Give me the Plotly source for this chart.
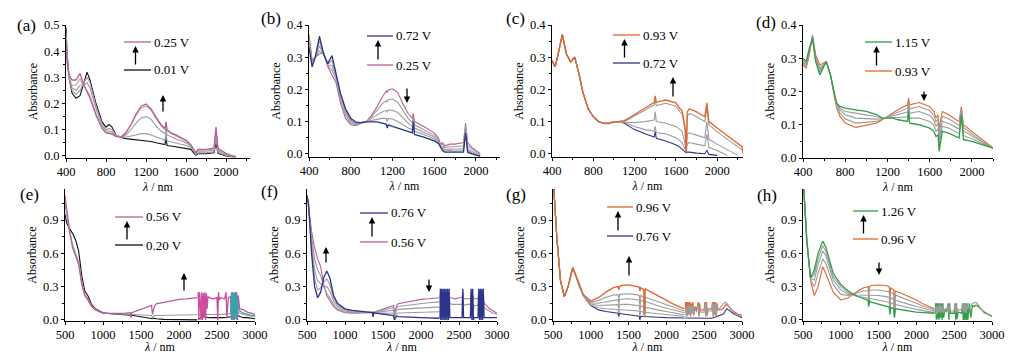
import plotly.graph_objects as go

# the page body has an 8 px margin, so the figure is drawn 16 px smaller and offset by 8 px
W, H = 1005, 346
OFF = 8
def px(x): return (x - OFF) / W
def py(y): return 1 - (y - OFF) / H

# ---------------- data ----------------
# (a) 0.01 V -> 0.25 V
a_wl = [400, 410, 430, 460, 500, 540, 580, 610, 640, 700, 760, 800, 830, 860, 900, 950, 1000, 1050, 1100, 1150,
        1200, 1250, 1300, 1350, 1390, 1400, 1410, 1450, 1500, 1600, 1650, 1680, 1700, 1720, 1800, 1880, 1900, 1920,
        1960, 2000, 2060, 2100]
a_001 = [0.49, 0.40, 0.30, 0.24, 0.22, 0.23, 0.28, 0.32, 0.29, 0.20, 0.13, 0.11, 0.12, 0.11, 0.08, 0.07, 0.066, 0.064,
         0.062, 0.060, 0.057, 0.055, 0.050, 0.046, 0.043, 0.070, 0.040, 0.038, 0.035, 0.030, 0.025, 0.010, 0.002,
         0.008, 0.008, 0.012, 0.050, 0.010, 0.005, 0.000, -0.003, -0.003]
a_g1 = [0.47, 0.39, 0.30, 0.25, 0.235, 0.25, 0.28, 0.30, 0.28, 0.19, 0.12, 0.10, 0.105, 0.10, 0.08, 0.072, 0.072, 0.075,
        0.080, 0.085, 0.085, 0.080, 0.072, 0.065, 0.060, 0.090, 0.058, 0.054, 0.050, 0.040, 0.032, 0.015, 0.005, 0.012,
        0.012, 0.016, 0.070, 0.014, 0.008, 0.002, -0.002, -0.003]
a_g2 = [0.46, 0.38, 0.30, 0.26, 0.25, 0.27, 0.27, 0.28, 0.26, 0.18, 0.12, 0.095, 0.095, 0.09, 0.077, 0.072, 0.080, 0.100,
        0.125, 0.145, 0.150, 0.140, 0.115, 0.095, 0.085, 0.110, 0.080, 0.072, 0.065, 0.050, 0.038, 0.018, 0.008, 0.018,
        0.018, 0.022, 0.090, 0.020, 0.012, 0.005, 0.000, -0.002]
a_g3 = [0.45, 0.37, 0.30, 0.27, 0.27, 0.295, 0.265, 0.25, 0.23, 0.16, 0.11, 0.09, 0.088, 0.085, 0.075, 0.072, 0.088,
        0.118, 0.155, 0.183, 0.190, 0.175, 0.142, 0.115, 0.100, 0.125, 0.097, 0.085, 0.076, 0.057, 0.040, 0.020, 0.010,
        0.022, 0.022, 0.027, 0.100, 0.025, 0.015, 0.008, 0.000, -0.002]
a_025 = [0.44, 0.36, 0.31, 0.29, 0.29, 0.315, 0.27, 0.245, 0.22, 0.155, 0.105, 0.088, 0.085, 0.083, 0.074, 0.072, 0.090,
         0.120, 0.160, 0.190, 0.198, 0.180, 0.148, 0.120, 0.105, 0.130, 0.100, 0.088, 0.080, 0.060, 0.042, 0.022, 0.012,
         0.025, 0.025, 0.030, 0.110, 0.028, 0.018, 0.010, 0.000, -0.003]

# (b) 0.25 V -> 0.72 V
b_wl = [400, 430, 460, 500, 540, 580, 620, 660, 700, 750, 800, 850, 900, 950, 1000, 1050, 1100, 1140, 1150, 1160,
        1200, 1250, 1300, 1350, 1390, 1400, 1410, 1500, 1600, 1640, 1660, 1680, 1700, 1750, 1800, 1880, 1900, 1920,
        1960, 2000, 2040]
b_025 = [0.37, 0.29, 0.30, 0.31, 0.315, 0.27, 0.245, 0.22, 0.16, 0.11, 0.09, 0.087, 0.095, 0.10, 0.12, 0.145, 0.175,
         0.195, 0.19, 0.198, 0.202, 0.19, 0.155, 0.125, 0.11, 0.125, 0.10, 0.085, 0.065, 0.05, 0.03, 0.035, 0.025,
         0.03, 0.03, 0.035, 0.095, 0.035, 0.02, 0.01, 0.0]
b_g1 = [0.36, 0.285, 0.30, 0.32, 0.31, 0.275, 0.26, 0.23, 0.17, 0.12, 0.095, 0.09, 0.095, 0.10, 0.115, 0.135, 0.155,
        0.165, 0.16, 0.168, 0.17, 0.16, 0.135, 0.11, 0.097, 0.115, 0.09, 0.075, 0.058, 0.045, 0.028, 0.03, 0.02, 0.022,
        0.022, 0.025, 0.085, 0.025, 0.015, 0.005, -0.003]
b_g2 = [0.35, 0.28, 0.30, 0.335, 0.31, 0.275, 0.275, 0.24, 0.18, 0.13, 0.10, 0.093, 0.096, 0.10, 0.11, 0.12, 0.13,
        0.135, 0.13, 0.136, 0.135, 0.128, 0.11, 0.095, 0.085, 0.11, 0.08, 0.067, 0.052, 0.04, 0.025, 0.022, 0.014,
        0.015, 0.014, 0.016, 0.078, 0.016, 0.008, 0.0, -0.005]
b_g3 = [0.34, 0.275, 0.30, 0.35, 0.31, 0.278, 0.29, 0.245, 0.185, 0.135, 0.105, 0.096, 0.097, 0.10, 0.105, 0.108, 0.11,
        0.11, 0.1, 0.11, 0.108, 0.1, 0.09, 0.08, 0.075, 0.105, 0.07, 0.06, 0.046, 0.036, 0.022, 0.015, 0.009, 0.01,
        0.008, 0.01, 0.07, 0.01, 0.004, -0.003, -0.006]
b_072 = [0.33, 0.27, 0.30, 0.365, 0.31, 0.28, 0.305, 0.25, 0.19, 0.14, 0.11, 0.098, 0.097, 0.099, 0.10, 0.099, 0.095,
         0.092, 0.08, 0.09, 0.085, 0.08, 0.075, 0.07, 0.065, 0.10, 0.06, 0.052, 0.04, 0.032, 0.02, 0.01, 0.005, 0.005,
         0.003, 0.005, 0.065, 0.005, 0.0, -0.005, -0.008]

# (c) 0.72 V -> 0.93 V
c_wl = [400, 430, 460, 500, 540, 580, 620, 660, 700, 750, 800, 850, 900, 950, 1000, 1050, 1100, 1150, 1200, 1300,
        1390, 1400, 1410, 1500, 1600, 1640, 1660, 1690, 1700, 1710, 1730, 1800, 1880, 1900, 1920, 2000, 2100, 2200,
        2240, 2250]
c_072 = [0.29, 0.27, 0.31, 0.37, 0.31, 0.285, 0.30, 0.25, 0.19, 0.14, 0.115, 0.10, 0.095, 0.095, 0.10, 0.10, 0.095,
         0.085, 0.075, 0.062, 0.052, 0.07, 0.048, 0.04, 0.028, 0.02, 0.015, 0.008, 0.003, 0.005, 0.005, 0.002, 0.0,
         0.01, -0.002, -0.005, None, None, None, None]
c_g1 = [0.29, 0.27, 0.31, 0.37, 0.31, 0.285, 0.30, 0.25, 0.19, 0.14, 0.115, 0.10, 0.095, 0.095, 0.10, 0.10, 0.097,
        0.09, 0.085, 0.075, 0.07, 0.085, 0.065, 0.062, 0.05, 0.04, 0.035, 0.015, 0.005, 0.03, 0.035, 0.03, 0.025, 0.06,
        0.02, 0.01, -0.005, None, None, None]
c_g2 = [0.29, 0.27, 0.31, 0.37, 0.31, 0.285, 0.30, 0.25, 0.19, 0.14, 0.115, 0.10, 0.095, 0.095, 0.10, 0.10, 0.098,
        0.097, 0.097, 0.10, 0.105, 0.13, 0.10, 0.095, 0.085, 0.075, 0.07, 0.03, 0.005, 0.06, 0.065, 0.058, 0.05, 0.10,
        0.045, 0.03, 0.012, -0.005, None, None]
c_g3 = [0.29, 0.27, 0.31, 0.37, 0.31, 0.285, 0.30, 0.25, 0.19, 0.14, 0.115, 0.10, 0.095, 0.095, 0.10, 0.10, 0.10,
        0.108, 0.118, 0.135, 0.152, 0.165, 0.15, 0.157, 0.148, 0.13, 0.125, 0.07, 0.005, 0.115, 0.125, 0.115, 0.10,
        0.14, 0.09, 0.068, 0.045, 0.022, 0.012, None]
c_093 = [0.29, 0.27, 0.31, 0.37, 0.31, 0.285, 0.30, 0.25, 0.19, 0.14, 0.115, 0.10, 0.094, 0.094, 0.098, 0.10, 0.103,
         0.112, 0.122, 0.142, 0.16, 0.18, 0.16, 0.167, 0.158, 0.14, 0.135, 0.08, 0.005, 0.13, 0.14, 0.13, 0.115,
         0.158, 0.10, 0.08, 0.055, 0.03, 0.022, 0.0]

# (d) 0.93 V -> 1.15 V
d_wl = [400, 430, 460, 490, 520, 560, 620, 660, 700, 720, 750, 800, 900, 1000, 1100, 1150, 1200, 1250, 1300, 1390,
        1400, 1410, 1500, 1600, 1640, 1660, 1680, 1690, 1700, 1720, 1780, 1850, 1880, 1900, 1920, 2000, 2100, 2200]
d_093 = [0.28, 0.27, 0.31, 0.37, 0.31, 0.28, 0.29, 0.25, 0.18, 0.15, 0.125, 0.105, 0.092, 0.098, 0.105, 0.115, 0.125,
         0.135, 0.145, 0.16, 0.18, 0.16, 0.167, 0.155, 0.14, 0.12, 0.13, 0.08, 0.11, 0.14, 0.13, 0.115, 0.11, 0.155,
         0.10, 0.08, 0.055, 0.03]
d_g1 = [0.285, 0.275, 0.315, 0.37, 0.30, 0.27, 0.29, 0.25, 0.185, 0.155, 0.135, 0.118, 0.105, 0.108, 0.11, 0.117,
        0.124, 0.13, 0.138, 0.15, 0.17, 0.148, 0.155, 0.143, 0.128, 0.108, 0.118, 0.07, 0.095, 0.125, 0.118, 0.104,
        0.098, 0.148, 0.092, 0.073, 0.05, 0.03]
d_g2 = [0.29, 0.28, 0.32, 0.365, 0.30, 0.265, 0.29, 0.25, 0.185, 0.16, 0.145, 0.13, 0.12, 0.118, 0.117, 0.118, 0.122,
        0.126, 0.13, 0.138, 0.16, 0.135, 0.14, 0.128, 0.114, 0.095, 0.105, 0.055, 0.075, 0.11, 0.104, 0.092, 0.087,
        0.142, 0.082, 0.066, 0.047, 0.03]
d_g3 = [0.295, 0.285, 0.325, 0.362, 0.295, 0.258, 0.29, 0.25, 0.188, 0.163, 0.15, 0.14, 0.135, 0.13, 0.124, 0.119,
        0.121, 0.122, 0.122, 0.124, 0.15, 0.12, 0.12, 0.11, 0.098, 0.08, 0.088, 0.04, 0.058, 0.095, 0.09, 0.078, 0.073,
        0.136, 0.068, 0.058, 0.043, 0.03]
d_115 = [0.30, 0.29, 0.33, 0.36, 0.29, 0.25, 0.29, 0.25, 0.19, 0.165, 0.155, 0.15, 0.145, 0.14, 0.13, 0.12, 0.12, 0.12,
         0.115, 0.11, 0.14, 0.105, 0.10, 0.09, 0.08, 0.065, 0.07, 0.02, 0.04, 0.08, 0.075, 0.065, 0.06, 0.13, 0.055,
         0.05, 0.04, 0.03]

# (e) 0.20 V -> 0.56 V
e_wl = [500, 520, 560, 600, 640, 680, 720, 760, 800, 850, 900, 1000, 1100, 1200, 1300, 1360, 1370, 1380, 1400, 1500,
        1600, 1640, 1650, 1680, 1700, 1800, 1900, 2000, 2100, 2200, 2240]
e_020 = [0.95, 0.88, 0.82, 0.78, 0.72, 0.62, 0.40, 0.26, 0.22, 0.14, 0.10, 0.065, 0.055, 0.05, 0.045, 0.042, 0.03,
         0.042, 0.04, 0.03, 0.02, 0.015, 0.01, 0.015, 0.01, 0.005, 0.003, 0.0, 0.0, 0.0, 0.0]
e_g1 = [1.05, 0.95, 0.8, 0.68, 0.6, 0.52, 0.34, 0.23, 0.19, 0.13, 0.095, 0.062, 0.056, 0.054, 0.052, 0.05, 0.02, 0.05,
        0.048, 0.045, 0.042, 0.04, 0.02, 0.04, 0.04, 0.042, 0.043, 0.044, 0.045, 0.046, 0.046]
e_056 = [1.12, 1.0, 0.8, 0.65, 0.58, 0.5, 0.32, 0.22, 0.18, 0.12, 0.09, 0.06, 0.058, 0.058, 0.06, 0.065, 0.02, 0.065,
         0.07, 0.1, 0.125, 0.13, 0.05, 0.13, 0.145, 0.16, 0.175, 0.185, 0.19, 0.2, 0.2]
e_nwl = [2250, 2255, 2260, 2270, 2275, 2290, 2300, 2310, 2320, 2330, 2340, 2350, 2360, 2370, 2380, 2400, 2450, 2500,
         2510, 2520, 2530, 2550, 2600, 2620, 2630, 2650, 2680, 2690, 2700, 2710, 2720, 2730, 2740, 2750, 2760, 2770,
         2780, 2790, 2800, 2850, 2900, 2950, 3000]
e_n056 = [0.2, 0.25, 0.0, 0.25, 0.22, 0.0, 0.25, 0.0, 0.24, 0.02, 0.25, 0.0, 0.24, 0.1, 0.21, 0.2, 0.19, 0.2, 0.0,
          0.25, 0.18, 0.2, 0.19, 0.25, 0.02, 0.2, 0.21, 0.0, 0.25, 0.0, 0.24, 0.0, 0.25, 0.01, 0.25, 0.0, 0.22, 0.15,
          0.1, 0.09, 0.07, 0.06, 0.05]
e_twl = [2680, 2690, 2700, 2710, 2720, 2730, 2740, 2750, 2760, 2770, 2780, 2800, 2850, 2900, 2950, 3000]
e_nteal = [0.05, 0.25, 0.0, 0.25, 0.0, 0.25, 0.02, 0.25, 0.0, 0.2, 0.12, 0.08, 0.06, 0.05, 0.04, 0.04]
e_bwl = [2250, 2300, 2400, 2500, 2600, 2700, 2750, 2800, 2850, 2900, 3000]
e_n020 = [0.0, 0.03, 0.02, 0.02, 0.02, 0.03, 0.05, 0.03, 0.02, 0.02, 0.01]
e_ng1 = [0.046, 0.05, 0.048, 0.05, 0.05, 0.06, 0.08, 0.06, 0.05, 0.04, 0.03]

# (f) 0.56 V -> 0.76 V
f_wl = [500, 520, 560, 600, 640, 680, 720, 760, 800, 850, 900, 1000, 1100, 1200, 1300, 1360, 1370, 1380, 1400, 1500,
        1600, 1640, 1650, 1680, 1700, 1800, 1900, 2000, 2100, 2200, 2240]
f_056 = [1.12, 1.0, 0.8, 0.65, 0.55, 0.48, 0.32, 0.22, 0.18, 0.12, 0.09, 0.065, 0.06, 0.06, 0.065, 0.07, 0.03, 0.07,
         0.075, 0.1, 0.125, 0.13, 0.06, 0.13, 0.145, 0.16, 0.175, 0.185, 0.19, 0.2, 0.2]
f_g1 = [1.12, 1.02, 0.75, 0.55, 0.45, 0.4, 0.3, 0.24, 0.2, 0.14, 0.1, 0.07, 0.065, 0.065, 0.065, 0.068, 0.03, 0.068,
        0.07, 0.09, 0.105, 0.11, 0.05, 0.11, 0.12, 0.13, 0.14, 0.15, 0.155, 0.16, 0.16]
f_g2 = [1.12, 1.03, 0.7, 0.45, 0.35, 0.33, 0.3, 0.3, 0.26, 0.17, 0.12, 0.08, 0.07, 0.068, 0.067, 0.067, 0.03, 0.067,
        0.066, 0.075, 0.085, 0.088, 0.04, 0.088, 0.095, 0.1, 0.105, 0.11, 0.113, 0.115, 0.115]
f_g3 = [1.12, 1.04, 0.65, 0.37, 0.27, 0.29, 0.34, 0.37, 0.32, 0.2, 0.135, 0.09, 0.078, 0.072, 0.068, 0.066, 0.03,
        0.066, 0.063, 0.06, 0.06, 0.06, 0.02, 0.06, 0.062, 0.065, 0.068, 0.07, 0.072, 0.074, 0.074]
f_076 = [1.12, 1.05, 0.6, 0.3, 0.2, 0.25, 0.38, 0.44, 0.38, 0.22, 0.15, 0.1, 0.085, 0.075, 0.07, 0.065, 0.03, 0.065,
         0.06, 0.05, 0.04, 0.038, 0.0, 0.035, 0.03, 0.025, 0.022, 0.02, 0.018, 0.015, 0.015]
f_nwl = [2250, 2255, 2260, 2270, 2280, 2290, 2300, 2310, 2320, 2330, 2340, 2350, 2360, 2370, 2380, 2400, 2450, 2500,
         2540, 2550, 2560, 2600, 2650, 2660, 2670, 2680, 2690, 2700, 2750, 2760, 2770, 2780, 2790, 2800, 2810, 2820,
         2830, 2850, 2900, 2950, 3000]
f_n056 = [0.2, 0.24, 0.15, 0.22, 0.18, 0.24, 0.2, 0.22, 0.18, 0.24, 0.2, 0.22, 0.19, 0.2, 0.2, 0.2, 0.19, 0.2, 0.2,
          0.25, 0.19, 0.19, 0.19, 0.25, 0.15, 0.22, 0.19, 0.19, 0.19, 0.24, 0.15, 0.22, 0.18, 0.2, 0.16, 0.18, 0.15,
          0.14, 0.1, 0.08, 0.06]
f_ngrey = [0.16, 0.2, 0.05, 0.22, 0.06, 0.2, 0.08, 0.22, 0.1, 0.2, 0.12, 0.18, 0.1, 0.2, 0.15, 0.14, 0.14, 0.14, 0.14,
           0.22, 0.13, 0.14, 0.14, 0.22, 0.05, 0.22, 0.08, 0.13, 0.13, 0.22, 0.05, 0.22, 0.05, 0.22, 0.08, 0.2, 0.12,
           0.1, 0.08, 0.06, 0.05]
f_n076 = [0.015, 0.28, 0.0, 0.28, 0.0, 0.28, 0.0, 0.28, 0.0, 0.28, 0.0, 0.28, 0.0, 0.28, 0.02, 0.02, 0.02, 0.02, 0.02,
          0.28, 0.02, 0.02, 0.02, 0.28, 0.0, 0.28, 0.0, 0.02, 0.02, 0.28, 0.0, 0.28, 0.0, 0.28, 0.0, 0.28, 0.02, 0.02,
          0.02, 0.02, 0.02]

# (g) 0.76 V -> 0.96 V
g_wl = [500, 550, 600, 650, 700, 760, 800, 850, 900, 1000, 1100, 1200, 1300, 1360, 1370, 1380, 1400, 1500, 1600, 1640,
        1650, 1660, 1700, 1710, 1720, 1800, 1900, 2000, 2100, 2200, 2240]
g_076 = [1.3, 0.75, 0.35, 0.21, 0.3, 0.47, 0.4, 0.3, 0.22, 0.13, 0.09, 0.075, 0.065, 0.06, 0.03, 0.06, 0.055, 0.045,
         0.035, 0.033, 0.0, 0.033, 0.03, 0.03, 0.03, 0.027, 0.024, 0.02, 0.018, 0.017, 0.017]
g_g1 = [1.3, 0.75, 0.35, 0.21, 0.3, 0.47, 0.4, 0.3, 0.22, 0.135, 0.11, 0.1, 0.095, 0.093, 0.06, 0.093, 0.092, 0.09,
        0.082, 0.078, 0.04, 0.078, 0.07, 0.02, 0.07, 0.062, 0.055, 0.046, 0.038, 0.033, 0.03]
g_g2 = [1.3, 0.75, 0.35, 0.21, 0.3, 0.47, 0.4, 0.3, 0.225, 0.145, 0.13, 0.13, 0.135, 0.137, 0.1, 0.137, 0.14, 0.14,
        0.132, 0.128, 0.08, 0.128, 0.115, 0.03, 0.115, 0.1, 0.088, 0.075, 0.06, 0.05, 0.046]
g_g3 = [1.3, 0.75, 0.35, 0.21, 0.3, 0.47, 0.4, 0.3, 0.225, 0.155, 0.15, 0.165, 0.178, 0.182, 0.14, 0.182, 0.186, 0.19,
        0.184, 0.178, 0.12, 0.178, 0.165, 0.04, 0.165, 0.145, 0.125, 0.105, 0.085, 0.07, 0.064]
g_g4 = [1.3, 0.75, 0.35, 0.21, 0.3, 0.47, 0.4, 0.3, 0.228, 0.16, 0.175, 0.205, 0.225, 0.228, 0.18, 0.228, 0.232,
        0.235, 0.228, 0.22, 0.16, 0.22, 0.205, 0.05, 0.205, 0.185, 0.16, 0.135, 0.108, 0.088, 0.08]
g_096 = [1.3, 0.75, 0.35, 0.21, 0.3, 0.47, 0.41, 0.31, 0.23, 0.17, 0.2, 0.25, 0.29, 0.3, 0.27, 0.3, 0.31, 0.315, 0.305,
         0.295, 0.26, 0.29, 0.27, 0.05, 0.28, 0.25, 0.22, 0.18, 0.14, 0.11, 0.1]
g_nwl = [2250, 2255, 2265, 2270, 2280, 2290, 2300, 2310, 2320, 2330, 2340, 2350, 2360, 2380, 2400, 2420, 2430, 2440,
         2450, 2500, 2510, 2520, 2530, 2540, 2550, 2600, 2610, 2620, 2630, 2640, 2650, 2660, 2670, 2680, 2700, 2720,
         2740, 2760, 2780, 2800, 2850, 2900, 2950, 3000]
g_n096 = [0.1, 0.16, 0.03, 0.16, 0.04, 0.16, 0.05, 0.16, 0.03, 0.15, 0.06, 0.16, 0.04, 0.12, 0.09, 0.16, 0.03, 0.15,
          0.09, 0.09, 0.16, 0.03, 0.16, 0.04, 0.1, 0.1, 0.16, 0.03, 0.16, 0.05, 0.16, 0.03, 0.15, 0.1, 0.09, 0.09, 0.1,
          0.11, 0.13, 0.14, 0.1, 0.07, 0.05, 0.04]
g_ngrey = [0.06, 0.12, 0.03, 0.12, 0.04, 0.13, 0.05, 0.14, 0.04, 0.13, 0.06, 0.13, 0.05, 0.1, 0.07, 0.14, 0.04, 0.13,
           0.07, 0.07, 0.15, 0.04, 0.15, 0.05, 0.08, 0.08, 0.15, 0.04, 0.15, 0.05, 0.15, 0.04, 0.14, 0.09, 0.1, 0.12,
           0.14, 0.15, 0.16, 0.15, 0.1, 0.06, 0.04, 0.03]
g_bwl = [2250, 2400, 2600, 2750, 2800, 2900, 3000]
g_n076 = [0.017, 0.015, 0.015, 0.05, 0.1, 0.05, 0.02]

# (h) 0.96 V -> 1.26 V
h_wl = [500, 550, 600, 650, 700, 760, 800, 850, 900, 1000, 1100, 1200, 1300, 1360, 1370, 1380, 1400, 1500, 1600, 1640,
        1650, 1660, 1700, 1710, 1720, 1800, 1900, 2000, 2100, 2200, 2240]
h_096 = [1.3, 0.75, 0.35, 0.22, 0.3, 0.48, 0.42, 0.33, 0.25, 0.18, 0.2, 0.25, 0.29, 0.3, 0.26, 0.3, 0.31, 0.315, 0.31,
         0.3, 0.22, 0.29, 0.27, 0.05, 0.26, 0.24, 0.21, 0.18, 0.14, 0.11, 0.1]
h_g1 = [1.3, 0.73, 0.36, 0.3, 0.42, 0.55, 0.51, 0.41, 0.32, 0.23, 0.22, 0.24, 0.26, 0.265, 0.21, 0.265, 0.27, 0.27,
        0.26, 0.255, 0.18, 0.25, 0.23, 0.05, 0.225, 0.2, 0.175, 0.15, 0.12, 0.1, 0.09]
h_g2 = [1.3, 0.72, 0.37, 0.36, 0.5, 0.62, 0.58, 0.46, 0.36, 0.27, 0.23, 0.225, 0.225, 0.222, 0.17, 0.222, 0.222, 0.22,
        0.21, 0.205, 0.12, 0.2, 0.185, 0.04, 0.18, 0.16, 0.14, 0.12, 0.1, 0.085, 0.08]
h_g3 = [1.3, 0.71, 0.375, 0.41, 0.55, 0.67, 0.62, 0.5, 0.39, 0.3, 0.245, 0.215, 0.2, 0.195, 0.14, 0.195, 0.19, 0.18,
        0.165, 0.16, 0.08, 0.155, 0.14, 0.03, 0.14, 0.125, 0.11, 0.095, 0.08, 0.07, 0.07]
h_126 = [1.3, 0.7, 0.38, 0.45, 0.6, 0.71, 0.66, 0.53, 0.42, 0.32, 0.26, 0.22, 0.19, 0.175, 0.12, 0.17, 0.16, 0.14, 0.12,
         0.115, 0.05, 0.11, 0.1, 0.02, 0.1, 0.09, 0.08, 0.07, 0.065, 0.06, 0.06]
h_nwl = [2250, 2255, 2265, 2270, 2280, 2290, 2300, 2310, 2320, 2330, 2340, 2350, 2360, 2380, 2400, 2420, 2430, 2440,
         2450, 2500, 2510, 2520, 2530, 2540, 2550, 2600, 2610, 2620, 2630, 2640, 2650, 2660, 2670, 2680, 2700, 2720,
         2740, 2760, 2780, 2800, 2850, 2900, 2950, 3000]
h_ngrey = [0.08, 0.12, 0.05, 0.13, 0.06, 0.13, 0.07, 0.14, 0.06, 0.13, 0.07, 0.13, 0.06, 0.1, 0.08, 0.14, 0.06, 0.13,
           0.08, 0.08, 0.14, 0.06, 0.14, 0.07, 0.09, 0.09, 0.14, 0.06, 0.14, 0.07, 0.14, 0.06, 0.14, 0.1, 0.11, 0.13,
           0.15, 0.15, 0.16, 0.15, 0.1, 0.06, 0.05, 0.04]
h_n126 = [0.06, 0.15, 0.0, 0.15, 0.01, 0.15, 0.0, 0.15, 0.02, 0.15, 0.0, 0.15, 0.02, 0.1, 0.07, 0.15, 0.0, 0.15, 0.06,
          0.06, 0.15, 0.0, 0.15, 0.01, 0.07, 0.06, 0.15, 0.0, 0.15, 0.0, 0.15, 0.0, 0.15, 0.0, 0.15, 0.02, 0.13, 0.12,
          0.13, 0.13, 0.1, 0.07, 0.05, 0.03]

panel_letters = ["(a)", "(b)", "(c)", "(d)", "(e)", "(f)", "(g)", "(h)"]
legend_top = ["0.25 V", "0.72 V", "0.93 V", "1.15 V", "0.56 V", "0.76 V", "0.96 V", "1.26 V"]
legend_bot = ["0.01 V", "0.25 V", "0.72 V", "0.93 V", "0.20 V", "0.56 V", "0.76 V", "0.96 V"]

# ---------------- styling ----------------
PINK = "#b8609c"
MAGENTA = "#cc4f9e"
BLACK = "#111111"
NAVY = "#2c3388"
ORANGE = "#e3652a"
GREEN = "#2f9e44"
GREY = "#9c9c9c"
LGREY = "#b5a0b0"
TEAL = "#3aa3a8"
FONT = "Liberation Serif"

fig = go.Figure()

def line(i, x, y, color, w=1.1):
    fig.add_trace(go.Scatter(x=x, y=y, mode="lines", line=dict(color=color, width=w),
                             xaxis="x" if i == 1 else f"x{i}", yaxis="y" if i == 1 else f"y{i}",
                             showlegend=False, hoverinfo="skip", connectgaps=False))

# (a)
line(1, a_wl, a_001, BLACK)
line(1, a_wl, a_g1, GREY)
line(1, a_wl, a_g2, GREY)
line(1, a_wl, a_g3, LGREY)
line(1, a_wl, a_025, PINK, 1.3)
# (b)
line(2, b_wl, b_025, PINK)
line(2, b_wl, b_g1, GREY)
line(2, b_wl, b_g2, GREY)
line(2, b_wl, b_g3, GREY)
line(2, b_wl, b_072, NAVY, 1.3)
# (c)
line(3, c_wl, c_072, NAVY)
line(3, c_wl, c_g1, GREY)
line(3, c_wl, c_g2, GREY)
line(3, c_wl, c_g3, GREY)
line(3, c_wl, c_093, ORANGE, 1.3)
# (d)
line(4, d_wl, d_093, ORANGE)
line(4, d_wl, d_g1, GREY)
line(4, d_wl, d_g2, GREY)
line(4, d_wl, d_g3, GREY)
line(4, d_wl, d_115, GREEN, 1.3)
# (e)
line(5, e_wl, e_020, BLACK)
line(5, e_bwl, e_n020, BLACK)
line(5, e_wl, e_g1, GREY)
line(5, e_bwl, e_ng1, GREY)
line(5, e_wl, e_056, PINK, 1.3)
line(5, e_nwl, e_n056, MAGENTA, 1.3)
line(5, e_twl, e_nteal, TEAL, 1.3)
# (f)
line(6, f_wl, f_056, PINK)
line(6, f_nwl, f_n056, PINK)
line(6, f_wl, f_g1, GREY)
line(6, f_wl, f_g2, GREY)
line(6, f_wl, f_g3, GREY)
line(6, f_nwl, f_ngrey, GREY)
line(6, f_wl, f_076, NAVY, 1.3)
line(6, f_nwl, f_n076, NAVY, 1.3)
# (g)
line(7, g_wl, g_076, NAVY)
line(7, g_bwl, g_n076, NAVY)
line(7, g_wl, g_g1, GREY)
line(7, g_wl, g_g2, GREY)
line(7, g_wl, g_g3, GREY)
line(7, g_wl, g_g4, GREY)
line(7, g_wl, g_096, ORANGE, 1.3)
line(7, g_nwl, g_n096, ORANGE, 1.3)
line(7, g_nwl, g_ngrey, GREY)
# (h)
line(8, h_wl, h_096, ORANGE)
line(8, h_wl, h_g1, GREY)
line(8, h_wl, h_g2, GREY)
line(8, h_wl, h_g3, GREY)
line(8, h_wl, h_126, GREEN, 1.3)
line(8, h_nwl, h_n126, GREEN, 1.3)
line(8, h_nwl, h_ngrey, GREY)

# ---------------- axes ----------------
bot_y = (321, 189)
panels = [
    dict(xd=(66, 250), yd=(158, 25), xr=[400, 2240], yr=[-0.008, 0.5]),
    dict(xd=(309, 500), yd=(157, 25), xr=[400, 2230], yr=[-0.01, 0.4]),
    dict(xd=(552, 743), yd=(157, 25), xr=[400, 2250], yr=[-0.01, 0.4]),
    dict(xd=(803, 993), yd=(158, 25), xr=[400, 2200], yr=[0.0, 0.4]),
    dict(xd=(65, 255), yd=bot_y, xr=[500, 3000], yr=[-0.01, 1.18]),
    dict(xd=(307, 497), yd=bot_y, xr=[500, 3000], yr=[-0.01, 1.18]),
    dict(xd=(553, 742), yd=bot_y, xr=[500, 3000], yr=[-0.01, 1.18]),
    dict(xd=(803, 992), yd=bot_y, xr=[500, 3000], yr=[-0.01, 1.18]),
]
tickfont = dict(family=FONT, size=12.5, color="black")
layout = {}
for k, p in enumerate(panels, start=1):
    top = k <= 4
    xn = "xaxis" if k == 1 else f"xaxis{k}"
    yn = "yaxis" if k == 1 else f"yaxis{k}"
    layout[xn] = dict(
        domain=[px(p["xd"][0]), px(p["xd"][1])], range=p["xr"], anchor="y" if k == 1 else f"y{k}",
        tick0=400 if top else 500, dtick=400 if top else 500,
        showline=True, linecolor="black", linewidth=1, ticks="outside", ticklen=3, tickwidth=1,
        tickcolor="black", minor=dict(ticks="outside", ticklen=2, dtick=200 if top else 250, tickcolor="black"),
        showgrid=False, zeroline=False, tickfont=tickfont, automargin=False, ticklabelstandoff=-1,
        title=dict(text="<i>λ</i> / nm", font=dict(family=FONT, size=12, color="black"), standoff=4))
    layout[yn] = dict(
        domain=[py(p["yd"][0]), py(p["yd"][1])], range=p["yr"], anchor="x" if k == 1 else f"x{k}",
        tick0=0, dtick=0.1 if top else 0.3, tickformat=".1f",
        showline=True, linecolor="black", linewidth=1, ticks="outside", ticklen=3, tickwidth=1,
        tickcolor="black", minor=dict(ticks="outside", ticklen=2, dtick=0.05 if top else 0.15, tickcolor="black"),
        showgrid=False, zeroline=False, tickfont=tickfont, automargin=False,
        title=dict(text="Absorbance", font=dict(family=FONT, size=12, color="black"), standoff=3))

# ---------------- annotations (labels, legends, arrows) ----------------
ann = []
shapes = []
letter_pos = [(26, 25), (271, 18), (516, 19), (766, 22), (29, 194), (269, 191), (516, 194), (767, 195)]
for t, (x, y) in zip(panel_letters, letter_pos):
    ann.append(dict(text=t, x=px(x), y=py(y), xref="paper", yref="paper", showarrow=False,
                    xanchor="center", yanchor="middle", font=dict(family=FONT, size=17, color="black")))

# legend blocks: (x0, x1, y_top_line, y_bottom_line, top colour, bottom colour)
leg = [
    (124, 151, 42, 70, PINK, BLACK),
    (367, 393, 36, 65, NAVY, PINK),
    (613, 640, 35, 63, ORANGE, NAVY),
    (865, 892, 42, 71, GREEN, ORANGE),
    (115, 143, 217, 245, PINK, BLACK),
    (360, 388, 213, 242, NAVY, PINK),
    (607, 633, 207, 236, ORANGE, NAVY),
    (853, 878, 211, 239, GREEN, ORANGE),
]
for (x0, x1, yt, yb, ct, cb), tt, tb in zip(leg, legend_top, legend_bot):
    shapes.append(dict(type="line", xref="paper", yref="paper", x0=px(x0), x1=px(x1), y0=py(yt), y1=py(yt),
                       line=dict(color=ct, width=1.3)))
    shapes.append(dict(type="line", xref="paper", yref="paper", x0=px(x0), x1=px(x1), y0=py(yb), y1=py(yb),
                       line=dict(color=cb, width=1.3)))
    for txt, yy in ((tt, yt), (tb, yb)):
        ann.append(dict(text=txt, x=px(x1 + 1), y=py(yy), xref="paper", yref="paper", showarrow=False,
                        xanchor="left", yanchor="middle", font=dict(family=FONT, size=13, color="black")))
    xm = (x0 + x1) / 2 - 2
    ann.append(dict(text="", x=px(xm), y=py(yt + 4), xref="paper", yref="paper", showarrow=True,
                    ax=0, ay=(yb - 4) - (yt + 4), axref="pixel", ayref="pixel",
                    arrowhead=2, arrowsize=1, arrowwidth=1.3, arrowcolor="black"))

# change arrows: (x, y_head, y_tail)
arrows = [(163, 95, 113), (407, 103, 87), (673, 77, 98), (924, 101, 90),
          (184, 273, 292), (326, 247, 264), (429, 292, 278), (629, 256, 277), (879, 275, 261)]
for x, yh, yt in arrows:
    ann.append(dict(text="", x=px(x), y=py(yh), xref="paper", yref="paper", showarrow=True,
                    ax=0, ay=yt - yh, axref="pixel", ayref="pixel",
                    arrowhead=2, arrowsize=1, arrowwidth=1.3, arrowcolor="black"))

fig.update_layout(
    width=W, height=H, autosize=False,
    margin=dict(l=0, r=0, t=0, b=0),
    paper_bgcolor="white", plot_bgcolor="white",
    showlegend=False, annotations=ann, shapes=shapes,
    font=dict(family=FONT, color="black"),
    **layout)

fig.write_html("out.html")
